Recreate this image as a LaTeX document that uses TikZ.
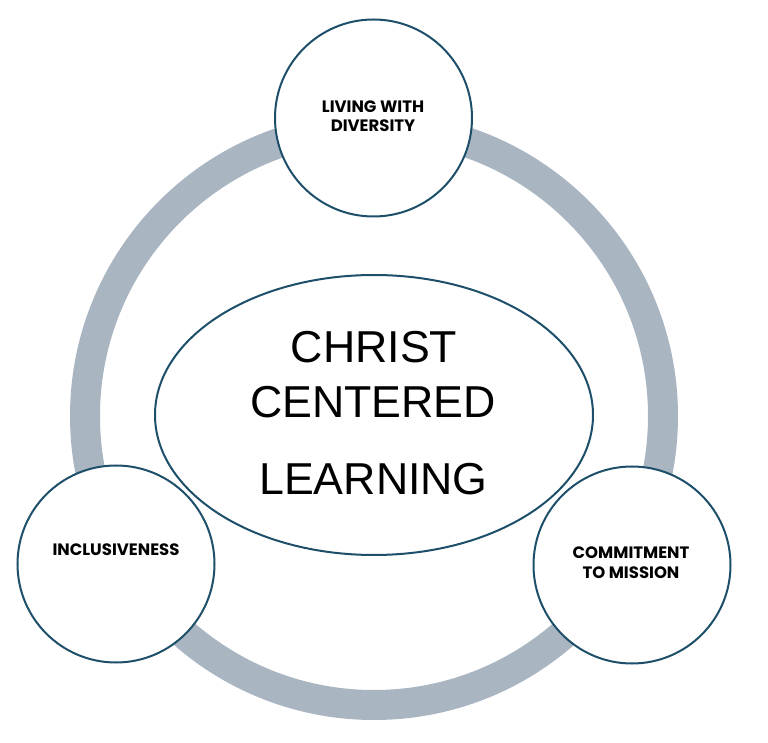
\documentclass[tikz,border=0pt]{standalone}
\usepackage{fontspec}
\setmainfont{Liberation Sans}
\newfontfamily\smallfont{Poppins}
\usetikzlibrary{shapes.geometric}
\definecolor{ringgrey}{HTML}{AAB5C2}
\definecolor{tealline}{HTML}{1D4F6A}
\tikzset{
  topic/.style={circle, draw=tealline, fill=white, line width=2pt, inner sep=0pt, minimum size=197pt},
  smalltxt/.style={anchor=base, inner sep=0pt, font=\smallfont\bfseries\fontsize{16.5}{18}\selectfont, text=black},
  bigtxt/.style={anchor=base, inner sep=0pt, font=\fontsize{44.7}{50}\selectfont, text=black}
}
\begin{document}
\begin{tikzpicture}[x=1pt,y=1pt]
\useasboundingbox (0,0) rectangle (768,742);
\node[circle, draw=ringgrey, line width=30pt, inner sep=0pt, minimum size=578pt] (ring) at (374,326) {};
\node[ellipse, draw=tealline, fill=white, line width=2pt, inner sep=0pt, minimum width=438pt, minimum height=280pt] (center) at (374,327) {};
\node[topic] (top) at (373.5,624) {};
\node[topic] (left) at (116,178) {};
\node[topic] (right) at (632,177) {};
\node[bigtxt] (t1) at (374,379) {CHRIST};
\node[bigtxt] (t2) at (373,324) {CENTERED};
\node[bigtxt] (t3) at (373.5,247) {LEARNING};
\node[smalltxt] (a1) at (373,629) {LIVING WITH};
\node[smalltxt] (a2) at (373,610) {DIVERSITY};
\node[smalltxt] (b1) at (116,187) {INCLUSIVENESS};
\node[smalltxt] (c1) at (631,184) {COMMITMENT};
\node[smalltxt] (c2) at (631,164) {TO MISSION};
\end{tikzpicture}
\end{document}
